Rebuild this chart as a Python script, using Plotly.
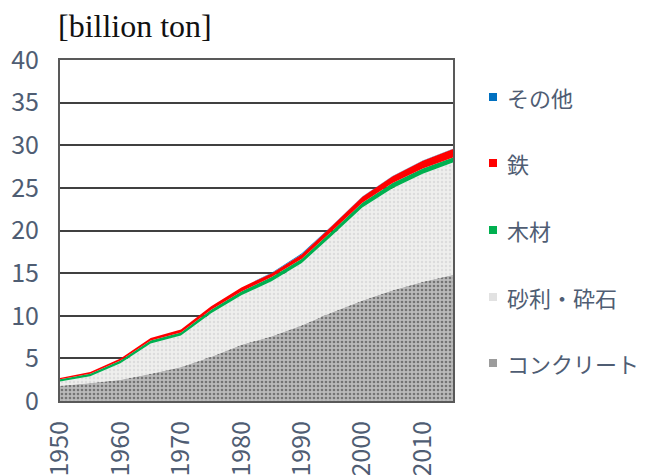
import plotly.graph_objects as go

years = [1950, 1955, 1960, 1965, 1970, 1975, 1980, 1985, 1990, 1995, 2000, 2005, 2010, 2015]
concrete = [1.8, 2.1, 2.5, 3.2, 4.0, 5.2, 6.6, 7.6, 8.9, 10.4, 11.8, 13.0, 14.0, 14.8]
gravel = [0.5, 0.8, 1.94, 3.54, 3.69, 5.1, 5.8, 6.45, 7.3, 9.0, 10.9, 11.97, 12.67, 13.17]
wood = [0.25, 0.3, 0.3, 0.35, 0.35, 0.4, 0.45, 0.5, 0.5, 0.55, 0.55, 0.6, 0.6, 0.6]
iron = [0.15, 0.2, 0.25, 0.3, 0.35, 0.4, 0.45, 0.45, 0.5, 0.6, 0.7, 0.8, 0.9, 1.0]
other = [0.01, 0.01, 0.01, 0.01, 0.01, 0.01, 0.02, 0.03, 0.12, 0.03, 0.03, 0.03, 0.03, 0.03]

names = ["コンクリート", "砂利・砕石", "木材", "鉄", "その他"]
series = [concrete, gravel, wood, iron, other]
fills = ["#a8a8a8", "#ededed", "#00b050", "#ff0000", "#0070c0"]
patterns = [
    dict(shape=".", bgcolor="#bababa", fgcolor="#747474", size=4, solidity=0.35, fillmode="replace"),
    dict(shape=".", bgcolor="#efefed", fgcolor="#dcdcdc", size=4, solidity=0.3, fillmode="replace"),
    None, None, None,
]
legend_colors = ["#9c9c9c", "#e2e2e2", "#00b050", "#ff0000", "#0070c0"]

fig = go.Figure()
for i, (nm, vals) in enumerate(zip(names, series)):
    kw = dict(x=years, y=vals, stackgroup="one", mode="none", name=nm,
              fillcolor=fills[i], showlegend=False, hoverinfo="skip")
    if patterns[i] is not None:
        kw["fillpattern"] = patterns[i]
    fig.add_trace(go.Scatter(**kw))

# manual legend on the right (top: その他, bottom: コンクリート)
W, H = 646, 475
ml, mr, mt, mb = 52, 201, 52, 82
pw = W - ml - mr
ph = H - mt - mb
legend_y_px = [355, 289, 222, 155, 89]  # centre of each entry, from the top, same order as names
annotations = []
shapes = []
for i, nm in enumerate(names):
    yc = (H - mb - legend_y_px[i]) / ph
    half = 4 / ph
    shapes.append(dict(type="rect", xref="paper", yref="paper",
                       x0=(481 - ml) / pw, x1=(489 - ml) / pw, y0=yc - half, y1=yc + half,
                       fillcolor=legend_colors[i], line=dict(width=0)))
    annotations.append(dict(text=nm, xref="paper", yref="paper", x=(497 - ml) / pw, y=yc,
                            xanchor="left", yanchor="middle", showarrow=False,
                            font=dict(family="Noto Sans CJK JP", size=22, color="#4f5d73")))

annotations.append(dict(text="[billion ton]", xref="paper", yref="paper", x=0, y=1,
                        xanchor="left", yanchor="bottom", xshift=-4, yshift=14, showarrow=False,
                        font=dict(family="Liberation Serif", size=32, color="#111111")))

tickfont = dict(family="Noto Sans CJK JP", size=25, color="#4f5d73")

fig.update_layout(
    width=W, height=H,
    margin=dict(l=ml, r=mr, t=mt, b=mb),
    paper_bgcolor="white", plot_bgcolor="white",
    showlegend=False,
    xaxis=dict(range=[1950, 2015], tickvals=[1950, 1960, 1970, 1980, 1990, 2000, 2010],
               tickangle=-90, showgrid=False, zeroline=False,
               showline=True, linecolor="#595959", linewidth=2, mirror=True,
               tickfont=tickfont, ticks="", automargin=False, ticklabelstandoff=8),
    yaxis=dict(range=[0, 40], tickvals=list(range(0, 41, 5)),
               showgrid=True, gridcolor="#404040", gridwidth=1.5, zeroline=False,
               showline=True, linecolor="#595959", linewidth=2, mirror=True,
               tickfont=tickfont, ticks="", automargin=False, ticklabelstandoff=14),
    annotations=annotations,
    shapes=shapes,
)

fig.write_html("out.html")
